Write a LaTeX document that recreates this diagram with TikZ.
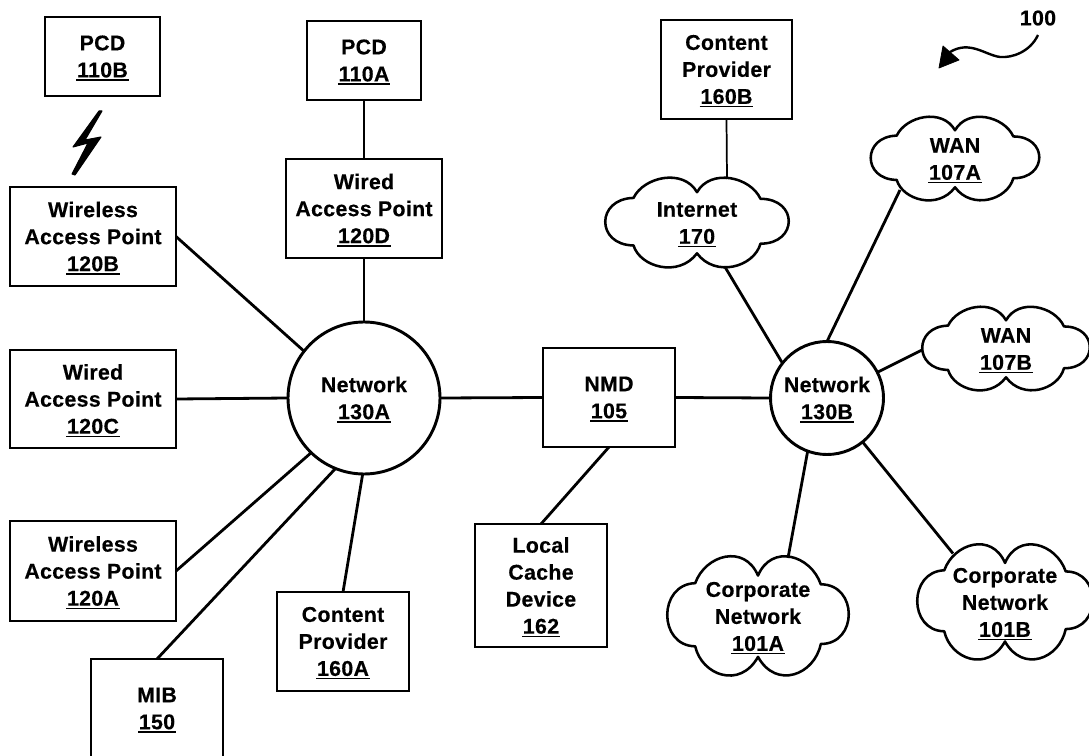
\documentclass[tikz,border=0pt]{standalone}
\usepackage{fontspec}
\setmainfont{Liberation Sans}[LetterSpace=1.5,BoldFeatures={FakeBold=0.4}]
\usetikzlibrary{calc}
\newcommand\ulbl[1]{\setbox0\hbox{#1}\rlap{\kern-0.6pt\smash{\rule[-2.6pt]{\dimexpr\wd0+1.2pt\relax}{1.1pt}}}\box0 }
\newcommand\cloudn[6]{%
  \begin{scope}[shift={(#2,#3)},x=#4*.375pt,y=-#5*.375pt]
    \draw[cloudline] (-.69,-.57) .. controls (-.58,-1.05) and (-.15,-1.25) .. (0,-.70)
      .. controls (.15,-1.25) and (.58,-1.05) .. (.69,-.55)
      .. controls (1.10,-.55) and (1.10,.47) .. (.69,.47)
      .. controls (.62,1.0) and (.2,1.25) .. (0,.69)
      .. controls (-.2,1.25) and (-.62,1.0) .. (-.69,.51)
      .. controls (-1.1,.5) and (-1.1,-.55) .. cycle;
  \end{scope}
  \node[lbl] (#1) at (#2,#3) {#6};}
\tikzset{
  lbl/.style={inner sep=0pt,align=center,font=\bfseries\fontsize{16}{20.25}\selectfont},
  bx/.style 2 args={lbl,draw,line width=2.1pt,fill=white,minimum width=#1*.75pt,minimum height=#2*.75pt,outer sep=0pt},
  net/.style={lbl,draw,circle,line width=2.2pt,fill=white,minimum size=#1*.75pt,outer sep=0pt},
  cloudline/.style={draw,fill=white,line width=1.9pt,line join=round},
  link/.style={line width=2.1pt},
  thinlink/.style={line width=1.3pt}
}
\begin{document}
\begin{tikzpicture}[x=.75pt,y=-.75pt]
\useasboundingbox (0,0) rectangle (1089,756);
% boxes
\node[bx={115}{79}] (pcdb) at (102.5,56.5) {PCD\\\ulbl{110B}};
\node[bx={166}{99}] (wapb) at (93,236.5) {Wireless\\Access Point\\\ulbl{120B}};
\node[bx={114}{79}] (pcda) at (364,60.5) {PCD\\\ulbl{110A}};
\node[bx={156}{99}] (wdd) at (364,208.5) {Wired\\Access Point\\\ulbl{120D}};
\node[bx={166}{98}] (wdc) at (93,399) {Wired\\Access Point\\\ulbl{120C}};
\node[bx={166}{100}] (wapa) at (93,571) {Wireless\\Access Point\\\ulbl{120A}};
\node[bx={132}{99}] (cpa) at (343,641.5) {Content\\Provider\\\ulbl{160A}};
\node[bx={132}{99}] (mib) at (157,708.5) {MIB\\\ulbl{150}};
\node[bx={132}{99}] (nmd) at (609,397.5) {NMD\\\ulbl{105}};
\node[bx={132}{123}] (lcd) at (541,585.5) {Local\\Cache\\Device\\\ulbl{162}};
\node[bx={131}{99}] (cpb) at (726.5,69.5) {Content\\Provider\\\ulbl{160B}};
% networks
\node[net=152] (neta) at (364,398) {Network\\\ulbl{130A}};
\node[net=113] (netb) at (827,398) {Network\\\ulbl{130B}};
% clouds
\cloudn{inet}{697}{223}{184}{88}{Internet\\\ulbl{170}}
\cloudn{wana}{955}{159}{169}{82}{WAN\\\ulbl{107A}}
\cloudn{wanb}{1006}{349}{168}{82}{WAN\\\ulbl{107B}}
\cloudn{cora}{758}{616.5}{182}{117}{Corporate\\Network\\\ulbl{101A}}
\cloudn{corb}{1005}{602.5}{176}{113}{Corporate\\Network\\\ulbl{101B}}
% connectors
\draw[link] (pcda.south) -- (wdd.north);
\draw[link] (wdd.south) -- (neta.north);
\draw[link] (wapb.east) -- (neta.142);
\draw[link] (wdc.east) -- (neta.west);
\draw[link] (wapa.east) -- (neta.226.6);
\draw[link] (mib.north) -- (neta.248);
\draw[link] (cpa.north) -- (neta.269);
\draw[link] (neta.east) -- (nmd.west);
\draw[link] (nmd.east) -- (netb.west);
\draw[link] (nmd.south) -- (lcd.north);
\draw[thinlink] (cpb.south) -- ($(inet)+(30,-44)$);
\draw[link] ($(inet)+(28,44)$) -- (netb.142);
\draw[link] ($(wana)+(-55,31)$) -- (netb.north);
\draw[link] ($(wanb)+(-84,1)$) -- (netb.27);
\draw[link] (netb.250) -- ($(cora)+(30,-58.5)$);
\draw[link] (netb.-51) -- ($(corb)+(-52,-49)$);
% lightning between PCD 110B and Wireless Access Point 120B
\fill[line join=round,draw,line width=.8pt] (102,111) -- (99,111) -- (73,147) -- (88,143) -- (72,174) -- (75,175) -- (101,137) -- (85,140) -- cycle;
% reference numeral
\node[lbl] (refn) at (1038,18) {100};
\coordinate (refs) at (1038,35);
\coordinate (refe) at (950,52);
\draw[line width=1.8pt] (refs) .. controls (1030,52) and (1012,58) .. (1000,57)
  .. controls (985,55) and (970,40) .. (refe);
\fill[line join=round,draw,line width=.6pt] (939,68) -- (943,46) -- (959,60) -- cycle;
\end{tikzpicture}
\end{document}
